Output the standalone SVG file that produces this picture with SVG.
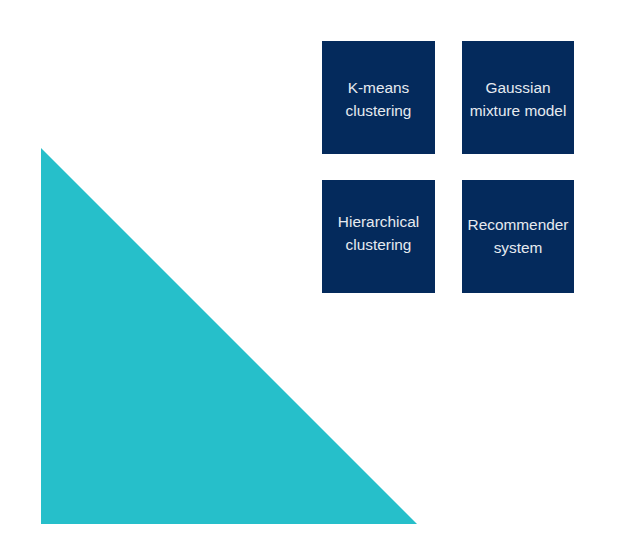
<svg xmlns="http://www.w3.org/2000/svg" width="642" height="537" viewBox="0 0 642 537">
<style>
.box{fill:#042A5C}
.lbl{fill:#E6EAF0;font-family:"Liberation Sans",Arial,sans-serif;font-size:15.4px;text-anchor:middle}
</style>
<rect width="642" height="537" fill="#FFFFFF"/>
<polygon id="triangle" points="41,148 41,524 417,524" fill="#26BFCA"/>
<g id="kmeans">
<rect class="box" x="322" y="41" width="113" height="113"/>
<text class="lbl" x="378.5" y="93">K-means</text>
<text class="lbl" x="378.5" y="116">clustering</text>
</g>
<g id="gaussian">
<rect class="box" x="462" y="41" width="112" height="113"/>
<text class="lbl" x="518" y="93">Gaussian</text>
<text class="lbl" x="518" y="116">mixture model</text>
</g>
<g id="hierarchical">
<rect class="box" x="322" y="180" width="113" height="113"/>
<text class="lbl" x="378.5" y="227">Hierarchical</text>
<text class="lbl" x="378.5" y="250">clustering</text>
</g>
<g id="recommender">
<rect class="box" x="462" y="180" width="112" height="113"/>
<text class="lbl" x="518" y="230">Recommender</text>
<text class="lbl" x="518" y="253">system</text>
</g>
<g id="connectors"/>
</svg>
